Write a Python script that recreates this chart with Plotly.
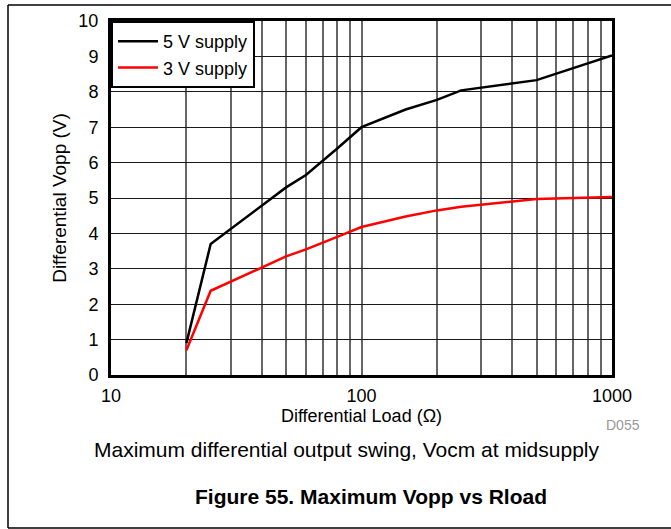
import plotly.graph_objects as go

# Differential load (ohms) and maximum differential output swing (Vpp)
load_ohms = [20, 25, 50, 60, 80, 100, 150, 200, 250, 500, 1000]
vopp_5v = [0.9, 3.7, 5.3, 5.65, 6.4, 7.0, 7.5, 7.77, 8.04, 8.33, 9.03]
vopp_3v = [0.7, 2.38, 3.35, 3.55, 3.9, 4.18, 4.48, 4.65, 4.75, 4.97, 5.03]

x_grid = [10, 20, 30, 40, 50, 60, 70, 80, 90, 100,
          200, 300, 400, 500, 600, 700, 800, 900, 1000]
x_labels = ["10"] + [""] * 8 + ["100"] + [""] * 8 + ["1000"]
y_ticks = list(range(0, 11))

FONT = "Liberation Sans, Arial, sans-serif"

fig = go.Figure()
fig.add_trace(go.Scatter(x=load_ohms, y=vopp_5v, mode="lines", name="5 V supply",
                         line=dict(color="black", width=2.5)))
fig.add_trace(go.Scatter(x=load_ohms, y=vopp_3v, mode="lines", name="3 V supply",
                         line=dict(color="#ff0000", width=2.5)))

L, R, T, B = 111, 59, 21, 154
W, H = 671, 529
pw, ph = W - L - R, H - T - B


def px_x(px):
    return (px - L) / pw


def px_y(py):
    return (H - B - py) / ph


fig.update_layout(
    width=W, height=H,
    margin=dict(l=L, r=R, t=T, b=B, pad=0),
    paper_bgcolor="white", plot_bgcolor="white",
    font=dict(family=FONT, color="black"),
    showlegend=True,
    legend=dict(x=0, y=1, xanchor="left", yanchor="top",
                bgcolor="white", bordercolor="black", borderwidth=2,
                font=dict(size=18, family=FONT), tracegroupgap=0,
                itemwidth=40),
    xaxis=dict(type="log", range=[1, 3], tickvals=x_grid, ticktext=x_labels,
               showgrid=True, gridcolor="#666666", gridwidth=1.5,
               ticks="", tickfont=dict(size=18), ticklabelstandoff=2,
               showline=True, linecolor="black", linewidth=3, mirror=True,
               title=dict(text="Differential Load (\u03a9)", font=dict(size=18),
                          standoff=2),
               zeroline=False),
    yaxis=dict(range=[0, 10], tickvals=y_ticks,
               showgrid=True, gridcolor="#1a1a1a", gridwidth=1.2,
               ticks="", tickfont=dict(size=18), ticklabelstandoff=6,
               showline=True, linecolor="black", linewidth=3, mirror=True,
               title=dict(text="Differential Vopp (V)", font=dict(size=19),
                          standoff=7),
               zeroline=False),
)

# Outer figure border (top, left, bottom)
border = dict(color="black", width=1.5)
fig.add_shape(type="line", xref="paper", yref="paper",
              x0=px_x(8), x1=px_x(672), y0=px_y(5), y1=px_y(5), line=border)
fig.add_shape(type="line", xref="paper", yref="paper",
              x0=px_x(8), x1=px_x(8), y0=px_y(5), y1=px_y(528), line=border)
fig.add_shape(type="line", xref="paper", yref="paper",
              x0=px_x(8), x1=px_x(672), y0=px_y(528), y1=px_y(528), line=border)

fig.add_annotation(text="D055", xref="paper", yref="paper",
                   x=px_x(623), y=px_y(425), showarrow=False,
                   xanchor="center", yanchor="middle",
                   font=dict(size=14, color="#999999"))
fig.add_annotation(text="Maximum differential output swing, Vocm at midsupply",
                   xref="paper", yref="paper", x=px_x(347), y=px_y(449),
                   xanchor="center", yanchor="middle",
                   showarrow=False, font=dict(size=21))
fig.add_annotation(text="<b>Figure 55. Maximum Vopp vs Rload</b>",
                   xref="paper", yref="paper", x=px_x(371), y=px_y(496),
                   xanchor="center", yanchor="middle",
                   showarrow=False, font=dict(size=21))

fig.write_html("out.html")
